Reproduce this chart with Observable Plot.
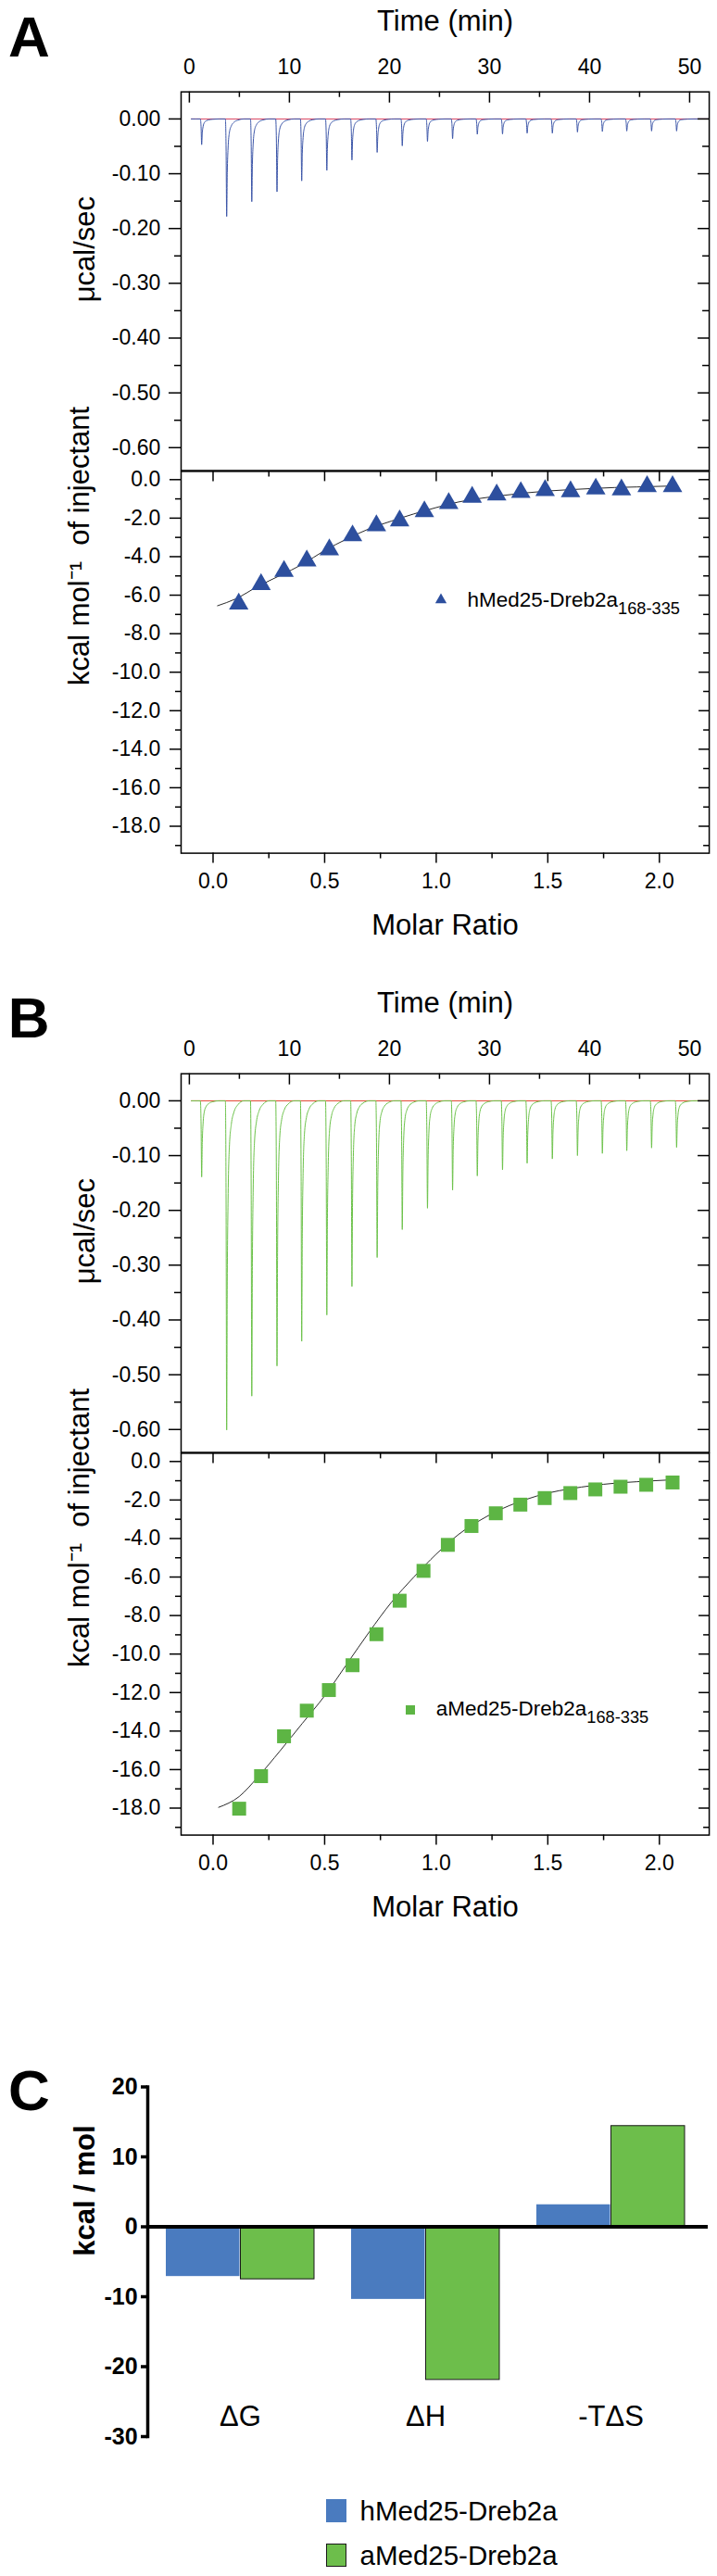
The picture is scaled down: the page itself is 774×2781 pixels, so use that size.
<!DOCTYPE html>
<html>
<head>
<meta charset="utf-8">
<script src="https://cdn.jsdelivr.net/npm/d3@7"></script>
<script src="https://cdn.jsdelivr.net/npm/@observablehq/plot@0.6"></script>
<style>
  html, body { margin: 0; padding: 0; background: #fff; }
  #fig { position: relative; width: 774px; height: 2781px; overflow: hidden;
         font-family: "Liberation Sans", Arial, Helvetica, sans-serif; color: #000; }
  .letter { position: absolute; font-weight: bold; font-size: 62px; line-height: 1; }
  .leg { position: absolute; line-height: 1; white-space: nowrap; }
  .leg sub { font-size: 0.81em; vertical-align: -7.5px; line-height: 0; }
  .sw { position: absolute; box-sizing: border-box; }
</style>
</head>
<body>
<div id="fig"></div>
<script>
// ---------------- data ----------------
// injection times (min), shared by both titrations
const injectionTimes = [1.15, 3.65, 6.16, 8.68, 11.15, 13.66, 16.17, 18.69, 21.2, 23.72,
                        26.23, 28.7, 31.22, 33.68, 36.2, 38.71, 41.2, 43.64, 46.12, 48.62];
// peak minima of the raw heat-flow traces (μcal/sec)
const peakDepthA = [-0.047, -0.178, -0.151, -0.133, -0.113, -0.094, -0.075, -0.061, -0.049, -0.041,
                    -0.036, -0.028, -0.0275, -0.026, -0.026, -0.024, -0.023, -0.022, -0.022, -0.022];
const peakDepthB = [-0.139, -0.601, -0.539, -0.484, -0.439, -0.391, -0.339, -0.286, -0.235, -0.196,
                    -0.163, -0.137, -0.126, -0.114, -0.106, -0.100, -0.096, -0.091, -0.086, -0.085];
// relative shape of one injection peak: [minutes after injection, fraction of peak depth]
const peakProfile = [[-0.05, 0], [0.02, 0.3], [0.08, 1], [0.14, 0.55], [0.22, 0.3], [0.35, 0.14],
                     [0.55, 0.07], [0.8, 0.035], [1.2, 0.012], [1.8, 0]];
const traceStart = 0.2, traceEnd = 51.9;

// integrated heats (kcal/mol of injectant) vs molar ratio
const molarA = [0.115, 0.215, 0.318, 0.42, 0.521, 0.625, 0.732, 0.836, 0.947, 1.056,
                1.161, 1.271, 1.379, 1.488, 1.602, 1.715, 1.83, 1.945, 2.059];
const heatA  = [-6.45, -5.44, -4.76, -4.21, -3.64, -2.91, -2.39, -2.13, -1.66, -1.23,
                -0.91, -0.79, -0.66, -0.56, -0.62, -0.48, -0.52, -0.35, -0.35];
const molarB = [0.117, 0.215, 0.318, 0.42, 0.519, 0.625, 0.732, 0.836, 0.943, 1.052,
                1.158, 1.267, 1.377, 1.486, 1.601, 1.713, 1.826, 1.941, 2.059];
const heatB  = [-18.03, -16.34, -14.27, -12.94, -11.87, -10.58, -8.97, -7.23, -5.68, -4.33,
                -3.35, -2.69, -2.24, -1.90, -1.64, -1.45, -1.31, -1.21, -1.09];
// fitted curves
const fitXA = [0.02, 0.1, 0.2, 0.3, 0.4, 0.5, 0.6, 0.7, 0.8, 0.9, 1.0, 1.1, 1.2, 1.3, 1.4, 1.5, 1.6, 1.7, 1.8, 1.9, 2.06];
const fitYA = [-6.55, -6.2, -5.55, -4.98, -4.4, -3.68, -3.08, -2.55, -2.15, -1.78, -1.45, -1.16, -0.97, -0.82, -0.69, -0.59, -0.52, -0.46, -0.41, -0.38, -0.33];
const fitXB = [0.025, 0.117, 0.2, 0.3, 0.4, 0.5, 0.6, 0.7, 0.8, 0.9, 1.0, 1.1, 1.2, 1.3, 1.4, 1.5, 1.6, 1.7, 1.8, 1.9, 2.06];
const fitYB = [-17.96, -17.4, -16.4, -15.03, -13.6, -12.17, -10.51, -8.85, -7.3, -6.0, -4.81, -3.79, -3.03, -2.43, -1.98, -1.64, -1.42, -1.25, -1.13, -1.05, -0.95];

// thermodynamic parameters (kcal/mol)
const terms   = ["ΔG", "ΔH", "-TΔS"];
const hValues = [-7.11, -10.38, 3.15];
const aValues = [-7.51, -21.9, 14.4];
const seriesNames = ["hMed25-Dreb2a", "aMed25-Dreb2a"];
const seriesSubscript = "168-335";

// ticks
const timeTicks  = [0, 10, 20, 30, 40, 50];
const timeMinor  = [5, 15, 25, 35, 45];
const powerTicks = [0, -0.1, -0.2, -0.3, -0.4, -0.5, -0.6];
const powerMinor = [-0.05, -0.15, -0.25, -0.35, -0.45, -0.55];
const ratioTicks = [0, 0.5, 1.0, 1.5, 2.0];
const ratioMinor = [0.25, 0.75, 1.25, 1.75];
const heatTicks  = [0, -2, -4, -6, -8, -10, -12, -14, -16, -18];
const heatMinor  = [-1, -3, -5, -7, -9, -11, -13, -15, -17, -19];
const energyTicks = [20, 10, 0, -10, -20, -30];

// ---------------- styling ----------------
const FONT = '"Liberation Sans", Arial, Helvetica, sans-serif';
const BLUE_TRACE = "#3b55a8", RED_A = "#d8405e";
const GREEN_TRACE = "#6cc24a", RED_B = "#e2402c";
const TRI = "#2d4f9e", SQ = "#5db544";
const BAR_H = "#4a7bbf", BAR_A = "#6dbe4b";
const LW = 1.5;

const fig = document.getElementById("fig");
function place(node, top, left = 0) {
  node.style.position = "absolute";
  node.style.top = top + "px";
  node.style.left = left + "px";
  fig.appendChild(node);
}

function thermogram(depths, traceColor, baseColor) {
  const trace = [{t: traceStart, p: 0}];
  injectionTimes.forEach((t, i) => peakProfile.forEach(([dt, f]) => trace.push({t: t + dt, p: depths[i] * f})));
  trace.push({t: traceEnd, p: 0});
  const W = 774, H = 512, mt = 98.7, mb = 4.5, ml = 195, mr = 8.9;
  const fw = W - ml - mr, fh = H - mt - mb;
  return Plot.plot({
    width: W, height: H, marginTop: mt, marginBottom: mb, marginLeft: ml, marginRight: mr,
    style: {fontFamily: FONT, background: "transparent", color: "#000", overflow: "visible"},
    x: {domain: [-0.824, 51.96]},
    y: {domain: [-0.6418, 0.0494]},
    marks: [
      Plot.ruleY([0], {x1: traceStart, x2: traceEnd, stroke: baseColor, strokeWidth: 1}),
      Plot.line(trace, {x: "t", y: "p", stroke: traceColor, strokeWidth: 1, curve: "monotone-x"}),
      Plot.frame({stroke: "#000", strokeWidth: LW}),
      Plot.ruleX(timeTicks, {insetBottom: fh - 12, strokeWidth: LW}),
      Plot.ruleX(timeMinor, {insetBottom: fh - 6, strokeWidth: LW}),
      Plot.ruleY(powerTicks, {insetLeft: fw - 12, strokeWidth: LW}),
      Plot.ruleY(powerMinor, {insetLeft: fw - 7, strokeWidth: LW}),
      Plot.ruleY(powerMinor, {insetLeft: -7, insetRight: fw, strokeWidth: LW}),
      Plot.axisY({ticks: powerTicks, anchor: "left", tickSize: 13, tickPadding: 9.2, strokeWidth: LW,
                  tickFormat: d => d.toFixed(2), fontSize: 23, label: null}),
      Plot.axisX({ticks: timeTicks, anchor: "top", tickSize: 0, tickPadding: 19.7,
                  tickFormat: d => String(d), fontSize: 23, label: null}),
      Plot.axisX({ticks: [], anchor: "top", label: "Time (min)", labelAnchor: "center", labelArrow: "none",
                  labelOffset: 88.6, fontSize: 31}),
      Plot.text(["μcal/sec"], {text: d => d, frameAnchor: "left", rotate: -90, lineAnchor: "bottom",
                               dx: -93.8, dy: 22.7, fontSize: 31})
    ]
  });
}

function isotherm(xs, ys, fx, fy, symbol, color, r) {
  const pts = xs.map((x, i) => ({x, y: ys[i]}));
  const fit = fx.map((x, i) => ({x, y: fy[i]}));
  const W = 774, H = 530, mt = 8.4, mb = 109.4, ml = 195, mr = 8.9;
  const fw = W - ml - mr, fh = H - mt - mb;
  return Plot.plot({
    width: W, height: H, marginTop: mt, marginBottom: mb, marginLeft: ml, marginRight: mr,
    style: {fontFamily: FONT, background: "transparent", color: "#000", overflow: "visible"},
    x: {domain: [-0.1432, 2.2233]},
    y: {domain: [-19.40, 0.428]},
    marks: [
      Plot.line(fit, {x: "x", y: "y", stroke: "#111", strokeWidth: 0.9, curve: "monotone-x"}),
      Plot.dot(pts, {x: "x", y: "y", symbol, r, fill: color, stroke: null}),
      Plot.frame({stroke: "#000", strokeWidth: LW}),
      Plot.ruleX(ratioTicks, {insetBottom: fh - 11, strokeWidth: LW}),
      Plot.ruleX(ratioMinor, {insetBottom: fh - 6, strokeWidth: LW}),
      Plot.ruleX(ratioMinor, {insetTop: fh, insetBottom: -6, strokeWidth: LW}),
      Plot.ruleY(heatTicks, {insetLeft: fw - 11, strokeWidth: LW}),
      Plot.ruleY(heatMinor, {insetLeft: fw - 6, strokeWidth: LW}),
      Plot.ruleY(heatMinor, {insetLeft: -6, insetRight: fw, strokeWidth: LW}),
      Plot.axisY({ticks: heatTicks, anchor: "left", tickSize: 12, tickPadding: 10.2, strokeWidth: LW,
                  tickFormat: d => d.toFixed(1), fontSize: 23, label: null}),
      Plot.axisX({ticks: ratioTicks, anchor: "bottom", tickSize: 11, tickPadding: 10.2, strokeWidth: LW,
                  tickFormat: d => d.toFixed(1), fontSize: 23, label: null}),
      Plot.axisX({ticks: [], anchor: "bottom", label: "Molar Ratio", labelAnchor: "center", labelArrow: "none",
                  labelOffset: 87.8, fontSize: 31}),
      Plot.text(["kcal mol⁻¹\u00a0\u00a0of injectant"], {text: d => d, frameAnchor: "left", rotate: -90,
                  lineAnchor: "bottom", dx: -99.4, dy: 25, fontSize: 31})
    ]
  });
}

function energetics() {
  const idx = d3.range(terms.length);
  return Plot.plot({
    width: 774, height: 420, marginTop: 22.5, marginBottom: 20, marginLeft: 159, marginRight: 13.8,
    style: {fontFamily: FONT, background: "transparent", color: "#000", overflow: "visible"},
    x: {domain: terms, paddingInner: 0.1976, paddingOuter: 0.0982},
    y: {domain: [-30, 20]},
    marks: [
      Plot.barY(idx, {x: i => terms[i], y: i => hValues[i], fill: BAR_H, insetRight: 80.5}),
      Plot.barY(idx, {x: i => terms[i], y: i => aValues[i], fill: BAR_A, stroke: "#1a1a1a", strokeWidth: 1, insetLeft: 80.5}),
      Plot.ruleY([0], {stroke: "#000", strokeWidth: 4, insetRight: -3.8}),
      Plot.frame({anchor: "left", stroke: "#000", strokeWidth: 3.5}),
      Plot.axisY({ticks: energyTicks, anchor: "left", tickSize: 7, tickPadding: 3.9, strokeWidth: 3.5,
                  tickFormat: d => String(d), fontSize: 25, fontWeight: "bold", label: null}),
      Plot.text(["kcal / mol"], {text: d => d, frameAnchor: "left", rotate: -90, lineAnchor: "bottom",
                  dx: -57.8, dy: -6, fontSize: 31, fontWeight: "bold"}),
      Plot.axisX({anchor: "bottom", tickSize: 0, tickPadding: 0, dy: -33.1, fontSize: 31, label: null})
    ]
  });
}

// ---------------- assemble ----------------
place(thermogram(peakDepthA, BLUE_TRACE, RED_A), 0);
place(isotherm(molarA, heatA, fitXA, fitYA, "triangle", TRI, 7.8), 500);
place(thermogram(peakDepthB, GREEN_TRACE, RED_B), 1060);
place(isotherm(molarB, heatB, fitXB, fitYB, "square", SQ, 8.46), 1560);
place(energetics(), 2230);

function html(s) { const d = document.createElement("div"); d.innerHTML = s; return d.firstElementChild; }
fig.appendChild(html(`<div class="letter" style="left:8.9px;top:9.2px">A</div>`));
fig.appendChild(html(`<div class="letter" style="left:8.8px;top:1067.5px">B</div>`));
fig.appendChild(html(`<div class="letter" style="left:9px;top:2225.5px">C</div>`));

// legends of the isotherms
fig.appendChild(html(`<svg style="position:absolute;left:468.9px;top:640.4px" width="14" height="12"><polygon points="0.85,11.2 13.15,11.2 7,0.5" fill="${TRI}"/></svg>`));
fig.appendChild(html(`<div class="leg" style="left:504.5px;top:636.5px;font-size:22.5px">${seriesNames[0]}<sub>${seriesSubscript}</sub></div>`));
fig.appendChild(html(`<div class="sw" style="left:438.3px;top:1840.7px;width:10px;height:10px;background:${SQ}"></div>`));
fig.appendChild(html(`<div class="leg" style="left:470.7px;top:1834.3px;font-size:22.5px">${seriesNames[1]}<sub>${seriesSubscript}</sub></div>`));

// legend of the bar chart
fig.appendChild(html(`<div class="sw" style="left:351.5px;top:2698.1px;width:22.7px;height:24.7px;background:${BAR_H}"></div>`));
fig.appendChild(html(`<div class="leg" style="left:388.5px;top:2696.3px;font-size:29.5px">${seriesNames[0]}</div>`));
fig.appendChild(html(`<div class="sw" style="left:351.5px;top:2746px;width:22.7px;height:24.7px;background:${BAR_A};border:1px solid #1a1a1a"></div>`));
fig.appendChild(html(`<div class="leg" style="left:388.5px;top:2743.7px;font-size:29.5px">${seriesNames[1]}</div>`));
</script>
</body>
</html>
